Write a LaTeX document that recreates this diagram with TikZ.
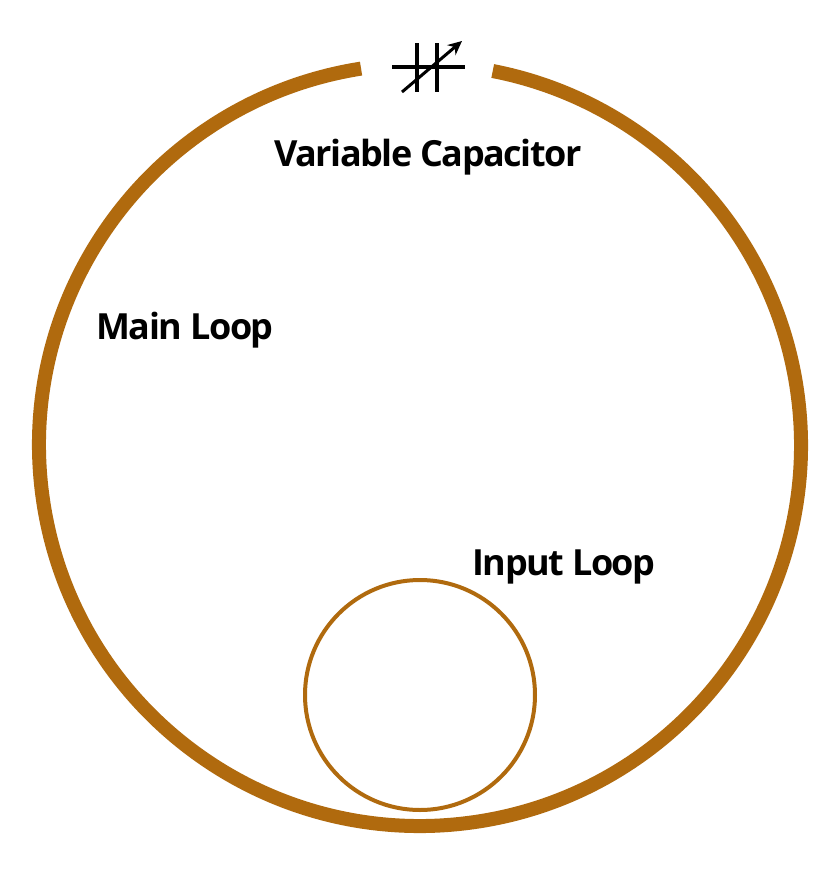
\documentclass[tikz,border=0pt]{standalone}
\usepackage{fontspec}
\setmainfont{Open Sans}[LetterSpace=-4]
\usetikzlibrary{arrows.meta}
\definecolor{copper}{HTML}{B06A0E}
\begin{document}
\begin{tikzpicture}[x=1pt,y=-1pt,
  lbl/.style={font=\fontsize{36}{36}\selectfont\bfseries, inner sep=0pt, text=black},
  wire/.style={draw=black, line width=4pt}]
\fill[white] (0,0) rectangle (840,871);
\useasboundingbox (0,0) rectangle (840,871);
\draw[copper, line width=14pt] (420,445) ++({-98.9}:381) arc[start angle=-98.9, end angle=-439, radius=381];
\draw[copper, line width=4pt] (420,695) circle[radius=115];
% capacitor
\node[coordinate] (pl) at (392,67) {};
\node[coordinate] (pr) at (465,67) {};
\draw[wire] (pl) -- (pr);
\draw[wire] (417,43) -- (417,92);
\draw[wire] (437,43) -- (437,92);
\node[coordinate] (a1) at (402,92) {};
\node[coordinate] (a2) at (462,41) {};
\draw[black, line width=3pt, -{Stealth[length=14pt,width=13pt]}] (a1) -- (a2);
\node[lbl] (vc) at (428,157) {Variable Capacitor};
\node[lbl] (ml) at (185,330) {Main Loop};
\node[lbl] (il) at (564,567) {Input Loop};
\end{tikzpicture}
\end{document}
